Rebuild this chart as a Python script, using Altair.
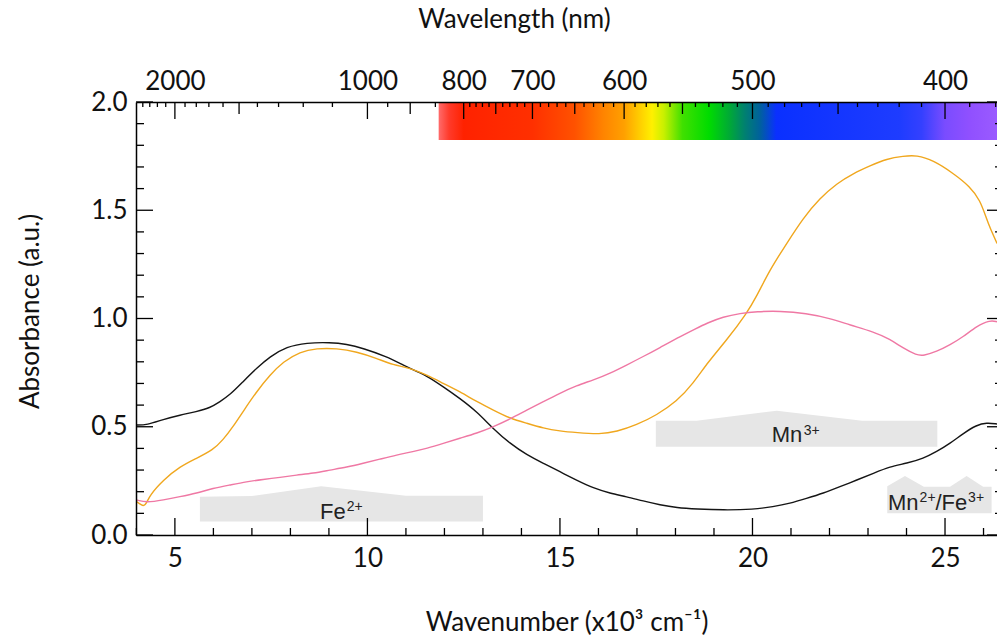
import altair as alt
import pandas as pd

# ---------------- data ----------------
black_wn = [4.0, 4.27, 4.70, 5.13, 5.56, 5.91, 6.17, 6.43, 6.77, 7.12, 7.47, 7.90, 8.42, 9.03, 9.46, 9.89, 10.50, 10.93, 11.32, 11.54, 11.97, 12.40, 12.84, 13.27, 13.70, 14.14, 14.57, 15.00, 15.43, 15.87, 16.30, 16.73, 17.16, 17.60, 18.03, 18.55, 19.24, 20.02, 20.54, 20.97, 21.40, 21.84, 22.27, 22.71, 23.14, 23.57, 24.01, 24.44, 24.78, 25.13, 25.48, 25.82, 26.08, 26.35]
black_abs = [0.508, 0.508, 0.534, 0.554, 0.570, 0.587, 0.616, 0.647, 0.708, 0.770, 0.824, 0.870, 0.888, 0.890, 0.882, 0.862, 0.824, 0.785, 0.752, 0.735, 0.685, 0.631, 0.570, 0.490, 0.423, 0.370, 0.331, 0.292, 0.254, 0.216, 0.193, 0.177, 0.157, 0.139, 0.126, 0.120, 0.115, 0.118, 0.131, 0.146, 0.169, 0.193, 0.223, 0.254, 0.285, 0.316, 0.331, 0.354, 0.385, 0.423, 0.470, 0.508, 0.519, 0.513]

orange_wn = [4.0, 4.13, 4.22, 4.35, 4.70, 5.13, 5.56, 5.99, 6.25, 6.51, 6.77, 7.12, 7.47, 7.81, 8.25, 8.68, 9.20, 9.72, 10.24, 10.67, 11.10, 11.54, 11.97, 12.40, 12.84, 13.27, 13.70, 14.14, 14.57, 15.00, 15.43, 16.04, 16.47, 16.99, 17.51, 18.03, 18.46, 18.85, 19.33, 19.85, 20.10, 20.45, 20.89, 21.32, 21.75, 22.19, 22.62, 23.05, 23.49, 23.92, 24.26, 24.70, 25.22, 25.65, 25.91, 26.08, 26.17, 26.35]
orange_abs = [0.154, 0.139, 0.130, 0.185, 0.254, 0.316, 0.354, 0.393, 0.439, 0.500, 0.570, 0.662, 0.739, 0.800, 0.847, 0.862, 0.862, 0.847, 0.816, 0.785, 0.772, 0.739, 0.700, 0.662, 0.616, 0.577, 0.539, 0.516, 0.493, 0.480, 0.473, 0.465, 0.477, 0.508, 0.554, 0.616, 0.700, 0.800, 0.900, 1.024, 1.100, 1.225, 1.347, 1.465, 1.555, 1.624, 1.670, 1.705, 1.738, 1.750, 1.755, 1.730, 1.670, 1.609, 1.547, 1.460, 1.418, 1.347]

pink_wn = [4.0, 4.27, 4.70, 5.13, 5.56, 5.99, 6.43, 6.86, 7.29, 7.73, 8.16, 8.59, 9.03, 9.46, 9.89, 10.32, 10.76, 11.19, 11.54, 11.97, 12.40, 12.84, 13.27, 13.70, 14.14, 14.57, 15.00, 15.43, 15.87, 16.30, 16.73, 17.16, 17.60, 18.03, 18.55, 18.81, 19.24, 19.68, 20.11, 20.71, 21.40, 22.01, 22.53, 23.14, 23.57, 23.92, 24.26, 24.44, 24.78, 25.13, 25.48, 25.82, 26.17, 26.35]
pink_abs = [0.162, 0.149, 0.162, 0.177, 0.193, 0.216, 0.231, 0.246, 0.257, 0.266, 0.277, 0.285, 0.300, 0.313, 0.331, 0.350, 0.370, 0.385, 0.400, 0.423, 0.447, 0.470, 0.500, 0.535, 0.577, 0.616, 0.655, 0.690, 0.716, 0.747, 0.785, 0.824, 0.866, 0.908, 0.955, 0.978, 1.008, 1.024, 1.032, 1.035, 1.024, 1.001, 0.970, 0.939, 0.905, 0.862, 0.831, 0.828, 0.847, 0.878, 0.916, 0.965, 0.993, 0.985]

series_names = ["black", "orange", "pink"]
series_colors = ["#151515", "#f0a71e", "#ef78a4"]

# absorption band regions (grey shapes): outline of top edge, constant bottom
band_fe2_wn = [5.65, 7.0, 8.8, 11.0, 13.0]
band_fe2_top = [0.177, 0.180, 0.225, 0.181, 0.181]
band_fe2_bottom = 0.062
band_mn3_wn = [17.49, 18.55, 20.63, 22.85, 24.80]
band_mn3_top = [0.528, 0.528, 0.574, 0.528, 0.528]
band_mn3_bottom = 0.408
band_mnfe_wn = [23.50, 23.96, 24.45, 25.13, 25.56, 25.99, 26.21]
band_mnfe_top = [0.225, 0.273, 0.223, 0.223, 0.273, 0.223, 0.223]
band_mnfe_bottom = 0.100

# band labels: text pieces, left x (wavenumber), baseline (absorbance), size class
label_text = ["Fe", "2+", "Mn", "3+", "Mn", "2+", "/Fe", "3+"]
label_wn = [8.77, 9.46, 20.50, 21.33, 23.52, 24.34, 24.75, 25.60]
label_abs = [0.074, 0.111, 0.428, 0.462, 0.115, 0.152, 0.115, 0.152]
label_kind = ["main", "sup", "main", "sup", "main", "sup", "main", "sup"]

# axes
x_tick_labels = [5, 10, 15, 20, 25]
x_minor = [4, 6, 7, 8, 9, 11, 12, 13, 14, 16, 17, 18, 19, 21, 22, 23, 24, 26]
y_tick_labels = [0.0, 0.5, 1.0, 1.5, 2.0]
y_minor = [0.1, 0.2, 0.3, 0.4, 0.6, 0.7, 0.8, 0.9, 1.1, 1.2, 1.3, 1.4, 1.6, 1.7, 1.8, 1.9]
top_major_nm = [2000, 1000, 800, 700, 600, 500, 400]
top_medium_nm = [1500, 900, 750, 650, 550, 450]
top_minor_nm = [2400, 2300, 2200, 2100, 1900, 1800, 1700, 1600, 1400, 1300, 1200, 1100, 950, 850,
                790, 780, 770, 760, 740, 730, 720, 710, 690, 680, 670, 660, 640, 630, 620, 610,
                590, 580, 570, 560, 540, 530, 520, 510, 490, 480, 470, 460, 440, 430, 420, 410,
                390, 380]

# visible spectrum bar
spectrum_start_wn = 11.85
spectrum_bottom_abs = 1.824
spectrum_nm = [844, 825, 800, 700, 650, 620, 600, 585, 575, 565, 550, 530, 515, 505, 495, 485, 420, 410, 400, 390, 380]
spectrum_colors = ["#ff6b6b", "#ff3a2a", "#ff2200", "#ff3000", "#ff5200", "#ff8400", "#ffa000", "#ffd000",
                   "#fff000", "#c8f000", "#40e000", "#00dc00", "#00a838", "#008070", "#00609e", "#0a30ff",
                   "#1e3cff", "#3440ff", "#7a4cff", "#9050ff", "#9a5aff"]

# ---------------- layout ----------------
X_DOMAIN = [3.99, 26.35]
W, H = 861, 433
FONT = "Lato"
xs = alt.Scale(domain=X_DOMAIN, nice=False, zero=False)
ys = alt.Scale(domain=[0, 2], nice=False)

spec_df = pd.concat([
    pd.DataFrame({"wn": black_wn, "absorb": black_abs, "series": "black"}),
    pd.DataFrame({"wn": orange_wn, "absorb": orange_abs, "series": "orange"}),
    pd.DataFrame({"wn": pink_wn, "absorb": pink_abs, "series": "pink"}),
])

band_df = pd.concat([
    pd.DataFrame({"wn": band_fe2_wn, "top": band_fe2_top, "bottom": band_fe2_bottom, "band": "Fe2+"}),
    pd.DataFrame({"wn": band_mn3_wn, "top": band_mn3_top, "bottom": band_mn3_bottom, "band": "Mn3+"}),
    pd.DataFrame({"wn": band_mnfe_wn, "top": band_mnfe_top, "bottom": band_mnfe_bottom, "band": "Mn2+/Fe3+"}),
])

label_df = pd.DataFrame({"text": label_text, "wn": label_wn, "absorb": label_abs, "kind": label_kind})

NOAX = None

bands = alt.Chart(band_df).mark_area(color="#e6e6e6", interpolate="linear", clip=True).encode(
    x=alt.X("wn:Q", scale=xs, axis=NOAX),
    y=alt.Y("top:Q", scale=ys, axis=NOAX),
    y2="bottom:Q",
    detail="band:N",
)

spec_w_end = X_DOMAIN[1]
span = spec_w_end - spectrum_start_wn
stops = [alt.GradientStop(color=c, offset=max(0.0, min(1.0, (1e4 / nm - spectrum_start_wn) / span)))
         for nm, c in zip(spectrum_nm, spectrum_colors)]
spec_bar = alt.Chart(pd.DataFrame({"x1": [spectrum_start_wn], "x2": [spec_w_end],
                                   "y1": [2.0], "y2": [spectrum_bottom_abs]})).mark_rect(
    color=alt.LinearGradient(gradient="linear", stops=stops, x1=0, x2=1, y1=0, y2=0)
).encode(
    x=alt.X("x1:Q", scale=xs, axis=NOAX), x2="x2:Q",
    y=alt.Y("y1:Q", scale=ys, axis=NOAX), y2="y2:Q",
)

lines = alt.Chart(spec_df).mark_line(strokeWidth=1.4, clip=True, interpolate="basis").encode(
    x=alt.X("wn:Q", scale=xs, axis=NOAX),
    y=alt.Y("absorb:Q", scale=ys, axis=NOAX),
    color=alt.Color("series:N", scale=alt.Scale(domain=series_names, range=series_colors), legend=None),
)

labels_main = alt.Chart(label_df).transform_filter("datum.kind == 'main'").mark_text(
    align="left", baseline="alphabetic", font="Liberation Sans", fontSize=22, color="#222222"
).encode(x=alt.X("wn:Q", scale=xs, axis=NOAX), y=alt.Y("absorb:Q", scale=ys, axis=NOAX), text="text:N")
labels_sup = alt.Chart(label_df).transform_filter("datum.kind == 'sup'").mark_text(
    align="left", baseline="alphabetic", font="Liberation Sans", fontSize=14, color="#222222"
).encode(x=alt.X("wn:Q", scale=xs, axis=NOAX), y=alt.Y("absorb:Q", scale=ys, axis=NOAX), text="text:N")

axis_common = dict(ticks=False, grid=False, domain=True, domainColor="black", domainWidth=1.5,
                   labelFont=FONT, labelFontSize=26, labelColor="#111111", labelOverlap=False,
                   titleFont=FONT, titleFontSize=26, titleFontWeight="normal", titleColor="#111111",
                   zindex=2)

def xrule(values, y0, y1, axis=None):
    df = pd.DataFrame({"wn": values})
    return alt.Chart(df).mark_rule(color="black", strokeWidth=1.3).encode(
        x=alt.X("wn:Q", scale=xs, axis=axis),
        y=alt.value(y0), y2=alt.value(y1))

def yrule(values, x0, x1, axis=None):
    df = pd.DataFrame({"absorb": values})
    return alt.Chart(df).mark_rule(color="black", strokeWidth=1.3).encode(
        y=alt.Y("absorb:Q", scale=ys, axis=axis),
        x=alt.value(x0), x2=alt.value(x1))

bottom_axis = alt.Axis(orient="bottom", values=x_tick_labels, format="d", labelPadding=10,
                       title="Wavenumber (x10³ cm⁻¹)", titleY=95, titleBaseline="alphabetic",
                       **axis_common)
top_axis = alt.Axis(orient="top", values=[1e4 / v for v in top_major_nm],
                    labelExpr="format(10000 / datum.value, '.0f')", labelPadding=8,
                    title="Wavelength (nm)", titleX=378, titleY=-75, titleAlign="center",
                    titleBaseline="alphabetic", **axis_common)
left_axis = alt.Axis(orient="left", values=y_tick_labels, format=".1f", labelPadding=9,
                     title="Absorbance (a.u.)", titleAngle=270, titleX=-98, titleY=209,
                     titleAlign="center", titleBaseline="alphabetic", **axis_common)

ticks = [
    xrule(x_tick_labels, H, H - 17, bottom_axis),
    xrule(x_minor, H, H - 7),
    xrule([1e4 / v for v in top_major_nm], 0, 17, top_axis),
    xrule([1e4 / v for v in top_medium_nm], 0, 12),
    xrule([1e4 / v for v in top_minor_nm], 0, 5),
    yrule(y_tick_labels, 0, 17, left_axis),
    yrule(y_minor, 0, 8),
    yrule(y_tick_labels, W, W - 10),
    yrule(y_minor, W, W - 2),
]

chart = alt.layer(bands, spec_bar, lines, labels_main, labels_sup, *ticks).resolve_axis(
    x="independent", y="independent"
).properties(
    width=W, height=H,
    autosize=alt.AutoSizeParams(type="none"),
    padding={"left": 136, "top": 102, "right": 0, "bottom": 102},
    background="white",
).configure_view(strokeWidth=0)

chart.save("out.html", embed_options={"renderer": "svg", "actions": False})
